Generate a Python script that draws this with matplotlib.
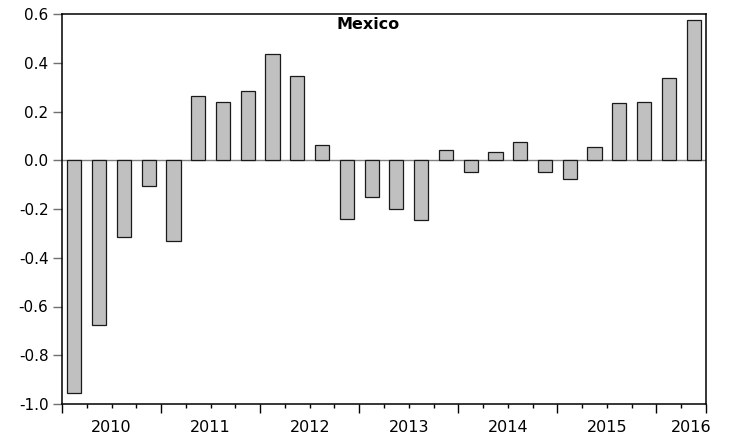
import matplotlib
matplotlib.use("Agg")
import matplotlib.pyplot as plt
from matplotlib.ticker import FixedLocator, FormatStrFormatter
from matplotlib.transforms import blended_transform_factory

plt.rcParams['font.family'] = ['DejaVu Sans']

# quarterly values, 2010Q1 .. 2016Q2
values = [-0.955, -0.676, -0.314, -0.106,
          -0.332, 0.262, 0.239, 0.286,
          0.434, 0.347, 0.061, -0.241,
          -0.151, -0.202, -0.244, 0.042,
          -0.047, 0.032, 0.075, -0.049,
          -0.076, 0.055, 0.235, 0.241,
          0.338, 0.574]
years = ['2010', '2011', '2012', '2013', '2014', '2015', '2016']
title = 'Mexico'

fig = plt.figure(figsize=(7.29, 4.43), dpi=100)
ax = fig.add_axes([62 / 729, 1 - 404 / 443, (706 - 62) / 729, (404 - 14) / 443])

x = list(range(len(values)))
ax.bar(x, values, width=0.57, color='#C0C0C0', edgecolor='#1a1a1a', linewidth=0.9, zorder=3)
ax.axhline(0, color='#808080', linewidth=1.0, zorder=2)

ax.set_xlim(-0.5, len(values) - 0.5)
ax.set_ylim(-1.0, 0.6)

ax.yaxis.set_major_locator(FixedLocator([-1.0, -0.8, -0.6, -0.4, -0.2, 0.0, 0.2, 0.4, 0.6]))
ax.yaxis.set_major_formatter(FormatStrFormatter('%.1f'))
ax.tick_params(axis='y', direction='out', length=6.3, width=1, labelsize=11, pad=3.5,
               color='#707070', labelcolor='black')

# year boundaries as major ticks, quarters as minor ticks
major = [-0.5 + 4 * i for i in range(len(years))] + [len(values) - 0.5]
minor = [i - 0.5 for i in range(len(values) + 1)]
ax.xaxis.set_major_locator(FixedLocator(major))
ax.xaxis.set_minor_locator(FixedLocator(minor))
ax.xaxis.set_major_formatter(plt.NullFormatter())
ax.tick_params(axis='x', which='major', direction='out', length=6.3, width=1)
ax.tick_params(axis='x', which='minor', direction='out', length=3, width=1)

trans = blended_transform_factory(ax.transData, ax.transAxes)
for i, yr in enumerate(years):
    start = 4 * i - 0.5
    end = min(start + 4, len(values) - 0.5)
    xc = (start + end) / 2
    if end - start < 4:
        xc = end - 0.6
    ax.text(xc, -0.059, yr, transform=trans, ha='center', va='center', fontsize=11.5)

for side in ax.spines.values():
    side.set_linewidth(1.1)
    side.set_color('black')

ax.text(0.476, 0.972, title, transform=ax.transAxes, ha='center', va='center',
        fontsize=11.5, fontweight='bold')

fig.savefig('out.png', dpi=100)
